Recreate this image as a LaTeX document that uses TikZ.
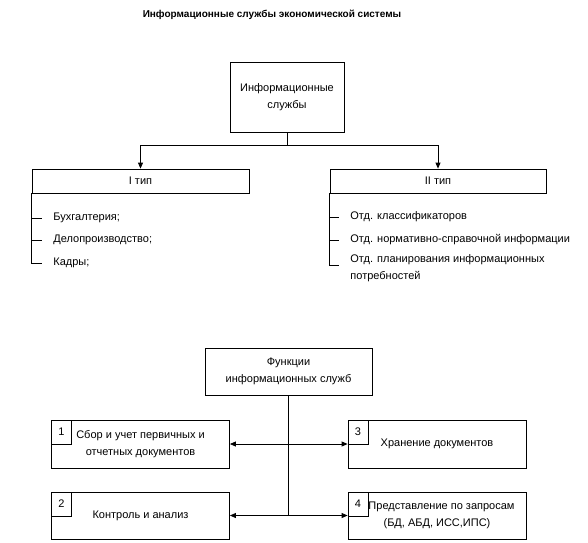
\documentclass[tikz,border=0pt]{standalone}
\usepackage{fontspec}
\setmainfont{Liberation Sans}
\usetikzlibrary{arrows.meta}

\begin{document}
\begin{tikzpicture}[x=1pt,y=-1pt,line width=0.8pt,>={Triangle[length=6pt,width=5pt]},
	box/.style={draw,rectangle,inner sep=0pt,align=center,font=\fontsize{11}{17}\selectfont},
	numtab/.style={draw,rectangle,inner sep=0pt,minimum width=20pt,minimum height=24pt,anchor=north west,font=\fontsize{11}{13}\selectfont},
	item/.style={anchor=west,inner sep=0pt,align=left,font=\fontsize{11}{17}\selectfont}]
	
	\useasboundingbox (0,0) rectangle (588,542);
	
	\node[font=\fontsize{10}{12}\selectfont\bfseries] (title) at (272,15) {Информационные службы экономической системы};
	
	% upper part
	\node[box,minimum width=114pt,minimum height=70pt] (info) at (287,97) {Информационные\\службы};
	\node[box,minimum width=217pt,minimum height=24pt] (type1) at (140.5,181) {I тип};
	\node[box,minimum width=216pt,minimum height=24pt] (type2) at (438,181) {II тип};
	
	\coordinate (split) at (287,145);
	\draw (info.south) -- (split);
	\draw[->] (split) -| (type1.north);
	\draw[->] (split) -| (type2.north);
	
	\node[item] (buh) at (53,218) {Бухгалтерия;};
	\node[item] (delo) at (53,240) {Делопроизводство;};
	\node[item] (kadry) at (53,263) {Кадры;};
	\draw (type1.south west |- buh.west) -- ([xshift=-11pt]buh.west);
	\draw (type1.south west |- delo.west) -- ([xshift=-11pt]delo.west);
	\draw (type1.south west) |- ([xshift=-11pt]kadry.west);
	
	\node[item] (klass) at (350,217) {Отд. классификаторов};
	\node[item] (norm) at (350,240) {Отд. нормативно-справочной информации};
	\node[item] (plan) at (350,268) {Отд. планирования информационных\\потребностей};
	\draw (type2.south west |- klass.west) -- ([xshift=-11pt]klass.west);
	\draw (type2.south west |- norm.west) -- ([xshift=-11pt]norm.west);
	\draw (type2.south west) |- ([xshift=-11pt,yshift=3pt]plan.west);
	
	% lower part
	\node[box,minimum width=167pt,minimum height=47pt] (func) at (288.5,371.5) {Функции\\информационных служб};
	\node[box,minimum width=178pt,minimum height=48pt] (box1) at (140.5,444) {Сбор и учет первичных и\\отчетных документов};
	\node[box,minimum width=178pt,minimum height=47pt] (box2) at (140.5,515.5) {Контроль и анализ};
	\node[box,minimum width=178pt,minimum height=48pt] (box3) at (437,444) {Хранение документов};
	\node[box,minimum width=178pt,minimum height=47pt] (box4) at (437,515.5) {\hspace*{9pt}Представление по запросам\\(БД, АБД, ИСС,ИПС)};
	
	\node[numtab] (n1) at (box1.north west) {1};
	\node[numtab] (n2) at (box2.north west) {2};
	\node[numtab] (n3) at (box3.north west) {3};
	\node[numtab] (n4) at (box4.north west) {4};
	
	\coordinate (j1) at (func.south |- box1.east);
	\coordinate (j2) at (func.south |- box2.east);
	\draw (func.south) -- (j2);
	\draw[->] (j1) -- (box1.east);
	\draw[->] (j1) -- (box3.west);
	\draw[->] (j2) -- (box2.east);
	\draw[->] (j2) -- (box4.west);
	
\end{tikzpicture}
\end{document}
